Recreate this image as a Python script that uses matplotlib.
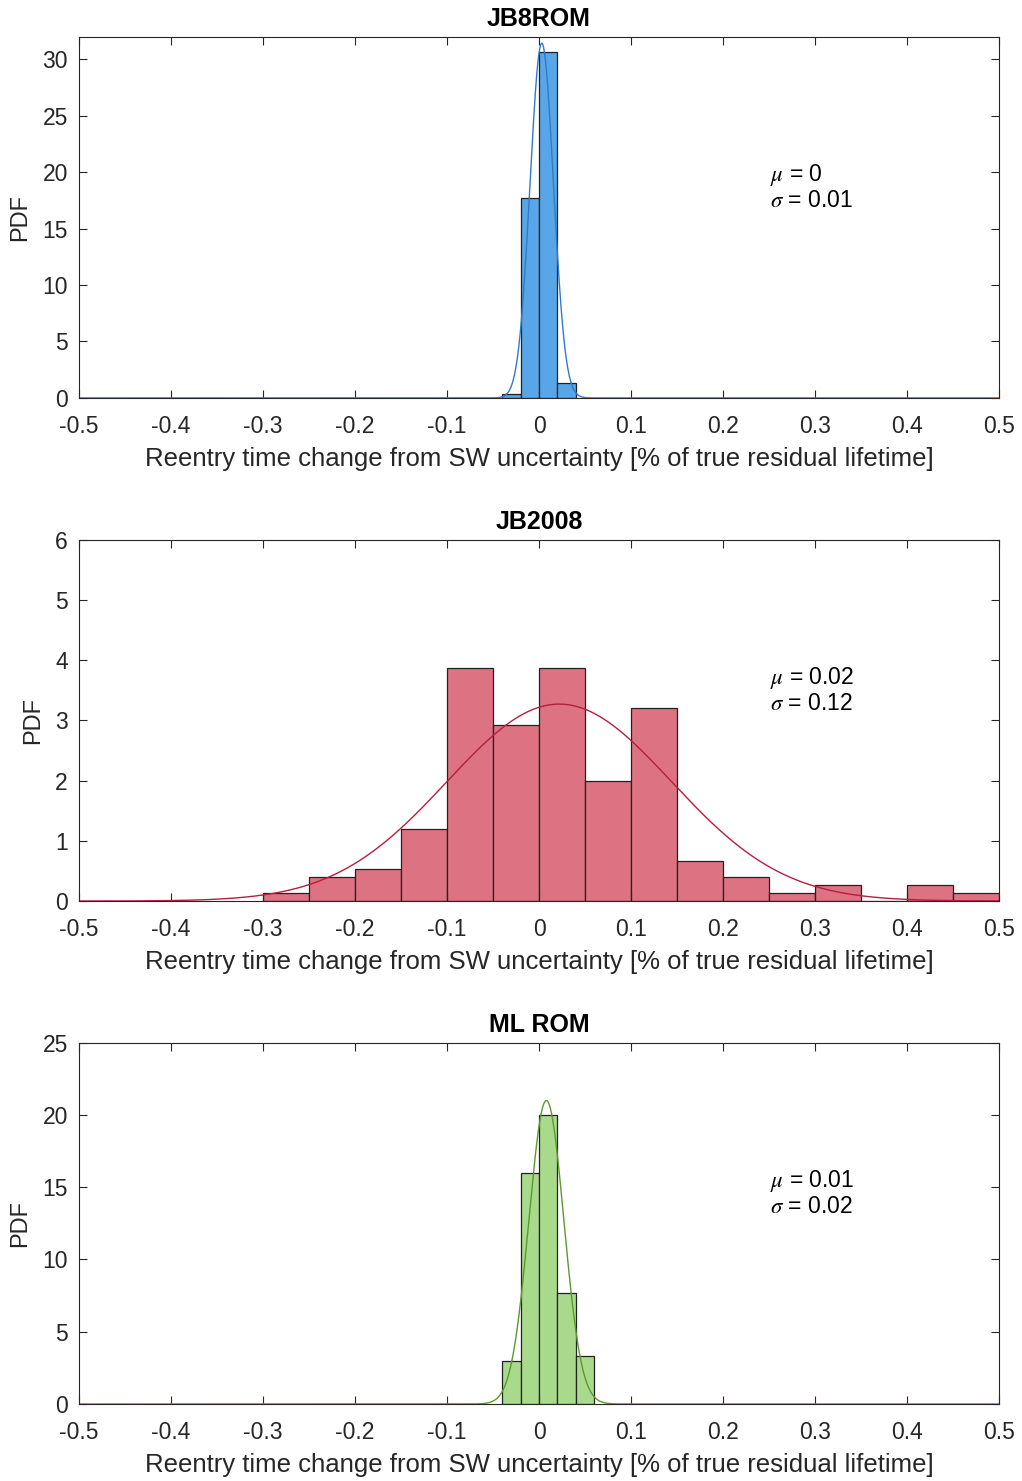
import numpy as np
import matplotlib.pyplot as plt

plt.rcParams['font.family'] = ['Liberation Sans', 'DejaVu Sans']
plt.rcParams['mathtext.fontset'] = 'stix'

# bin edges and PDF heights
edges_rom = [-0.04, -0.02, 0.0, 0.02, 0.04]
pdf_rom = [0.33, 17.67, 30.67, 1.33]
mu_rom, sig_rom = 0.003, 0.0127

edges_jb = [-0.3, -0.25, -0.2, -0.15, -0.1, -0.05, 0.0, 0.05, 0.1, 0.15,
            0.2, 0.25, 0.3, 0.35, 0.4, 0.45, 0.5]
pdf_jb = [0.13, 0.40, 0.53, 1.20, 3.87, 2.93, 3.87, 2.00, 3.20, 0.67,
          0.40, 0.13, 0.27, 0.0, 0.27, 0.13]
mu_jb, sig_jb = 0.022, 0.122

edges_ml = [-0.04, -0.02, 0.0, 0.02, 0.04, 0.06]
pdf_ml = [3.0, 16.0, 20.0, 7.67, 3.33]
mu_ml, sig_ml = 0.008, 0.019

titles = ["JB8ROM", "JB2008", "ML ROM"]
labels = [(r"$\mu$ = 0", r"$\sigma$ = 0.01"),
          (r"$\mu$ = 0.02", r"$\sigma$ = 0.12"),
          (r"$\mu$ = 0.01", r"$\sigma$ = 0.02")]
ylims = [(0, 32), (0, 6), (0, 25)]
yticks = [np.arange(0, 31, 5), np.arange(0, 7, 1), np.arange(0, 26, 5)]
fills = ["#58a6e8", "#dd7282", "#a9d98b"]
lines = ["#2f7bc9", "#b51f3c", "#5b9a2e"]
xticks = [-0.5, -0.4, -0.3, -0.2, -0.1, 0, 0.1, 0.2, 0.3, 0.4, 0.5]
xticklabels = ["-0.5", "-0.4", "-0.3", "-0.2", "-0.1", "0", "0.1", "0.2", "0.3", "0.4", "0.5"]

data = [(edges_rom, pdf_rom, mu_rom, sig_rom),
        (edges_jb, pdf_jb, mu_jb, sig_jb),
        (edges_ml, pdf_ml, mu_ml, sig_ml)]

fig = plt.figure(figsize=(10.22, 14.81), dpi=100)
bottoms = [0.7313, 0.3916, 0.052]

for i, (edges, pdf, mu, sig) in enumerate(data):
    ax = fig.add_axes([0.0773, bottoms[i], 0.9002, 0.2440])
    edges = np.array(edges)
    ax.bar(edges[:-1], pdf, width=np.diff(edges), align='edge',
           color=fills[i], edgecolor='#222222', linewidth=0.9)
    # normal fit curve
    xs = np.linspace(-0.5, 0.5, 2001)
    ys = np.exp(-0.5 * ((xs - mu) / sig) ** 2) / (sig * np.sqrt(2 * np.pi))
    ax.plot(xs, ys, color=lines[i], linewidth=1.0)
    ax.set_xlim(-0.5, 0.5)
    ax.set_ylim(*ylims[i])
    ax.set_yticks(yticks[i])
    ax.set_xticks(xticks)
    ax.set_xticklabels(xticklabels)
    ax.tick_params(direction='in', top=True, right=True, labelsize=16.5,
                   length=6, width=0.8, colors='#262626')
    ax.tick_params(axis='x', pad=12)
    ax.tick_params(axis='y', pad=8)
    for s in ax.spines.values():
        s.set_color('#262626')
        s.set_linewidth(0.8)
    ax.set_title(titles[i], fontsize=18, fontweight='bold', pad=7.5)
    ax.set_ylabel("PDF", fontsize=17, labelpad=8, color='#262626')
    ax.set_xlabel("Reentry time change from SW uncertainty [% of true residual lifetime]",
                  fontsize=18.5, labelpad=7, color='#262626')
    ax.text(0.751, 0.618, labels[i][0], transform=ax.transAxes, fontsize=16.5, va='center')
    ax.text(0.751, 0.546, labels[i][1], transform=ax.transAxes, fontsize=16.5, va='center')

fig.savefig("out.png", dpi=100)
